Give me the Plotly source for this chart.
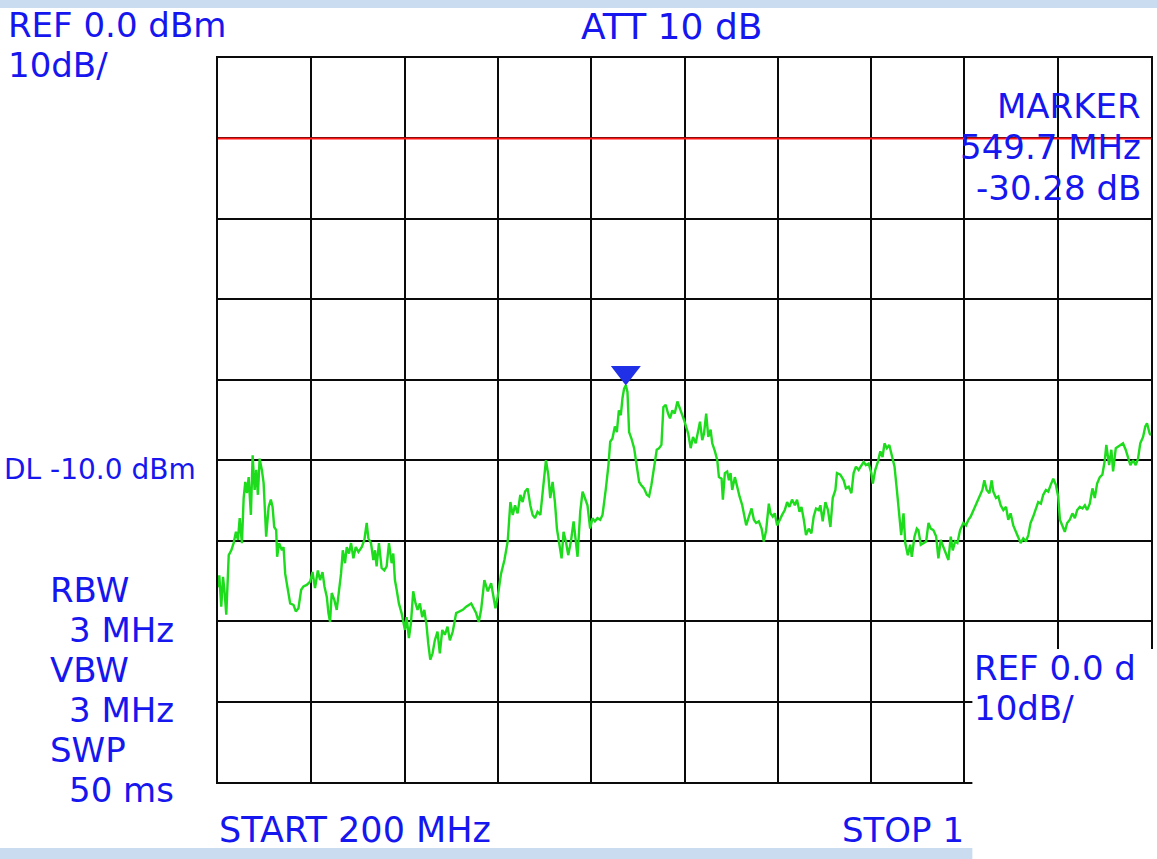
import numpy as np
import plotly.graph_objects as go

# ---------------- data ----------------
freq_mhz = [
    200.0, 201.1, 202.8, 204.3, 205.7, 207.1, 209.2, 211.4, 213.4, 215.4,
    217.1, 218.6, 220.5, 222.0, 223.4, 224.8, 226.3, 228.2, 229.7, 231.4,
    232.8, 234.2, 235.7, 237.6, 239.1, 240.5, 241.3, 243.4, 245.3, 246.8,
    248.2, 249.9, 250.7, 252.4, 254.8, 256.2, 257.6, 259.9, 261.9, 264.8,
    266.7, 269.0, 271.3, 273.3, 276.1, 279.0, 281.0, 283.2, 285.6, 287.5,
    289.6, 291.3, 293.3, 294.7, 296.1, 297.5, 299.8, 301.8, 303.3, 305.5,
    307.0, 308.9, 310.4, 312.3, 314.1, 316.1, 318.1, 320.4, 323.2, 325.5,
    327.5, 328.9, 331.2, 333.2, 334.6, 336.0, 338.0, 340.3, 342.6, 344.6,
    346.6, 348.9, 350.3, 351.7, 353.2, 355.1, 357.4, 358.9, 360.3, 361.7,
    363.7, 365.4, 367.4, 369.4, 371.1, 373.1, 375.1, 376.9, 378.8, 380.3,
    382.0, 384.0, 385.9, 388.2, 390.2, 392.3, 394.5, 396.8, 398.8,
    401.3, 404.2, 409.9, 412.8, 417.1, 421.3, 423.6, 425.6, 428.4, 431.3,
    434.2, 437.9, 439.8, 442.7, 445.6, 448.4,
    450.7, 452.7, 454.7, 456.9, 459.2, 461.2, 463.3, 465.5, 467.8, 469.8,
    471.8, 474.0, 476.4, 478.3, 481.2, 483.2, 484.9, 486.9, 488.9, 490.6,
    492.6, 494.6, 496.3, 498.3, 500.3, 502.6, 504.9, 506.9, 508.3, 510.6,
    512.6, 514.6, 516.8, 519.1, 521.1, 523.2, 525.4, 527.7, 529.7, 532.6,
    534.8, 536.3, 538.2, 540.3, 542.0, 543.7, 545.4, 546.8, 548.2, 549.7,
    551.1, 552.5, 554.5, 556.8, 559.1, 561.1, 563.0, 565.3, 567.7, 569.6,
    571.6, 573.9, 576.2, 578.2, 580.2, 581.9, 583.9, 585.9, 587.6, 589.6,
    591.6, 593.9, 596.2, 598.1,
    599.6, 601.5, 603.2, 605.3, 607.3, 609.6, 611.5, 613.3, 615.2, 616.7,
    618.6, 620.4, 622.4, 623.8, 626.1, 628.1, 629.5, 631.8, 632.9, 634.6,
    636.6, 638.1, 639.5, 640.9, 643.2, 645.2, 647.2, 649.5, 650.9, 652.9,
    655.2, 657.5, 659.5, 661.4, 663.7, 666.1, 668.0, 670.0, 672.3, 673.7,
    675.7, 677.4, 679.4, 681.4, 683.7, 686.0, 688.0, 690.0, 692.2, 694.6,
    696.5, 698.6, 700.3, 702.3, 704.2, 706.5, 708.8, 710.8, 712.8, 715.1,
    716.5, 718.5, 720.8, 723.0, 725.1, 727.1, 729.4, 730.7, 733.6, 736.5,
    738.4, 740.8, 743.1, 745.0, 747.0, 749.3, 751.6, 753.6, 755.5, 757.9,
    760.2, 761.5, 763.6, 765.8, 767.9, 769.8, 771.5, 773.5, 775.6, 777.8,
    780.1, 782.1, 784.1, 785.8, 787.8, 789.3, 791.5, 793.5, 794.9, 797.2,
    799.2,
    800.6, 802.6, 804.9, 807.2, 809.2, 811.2, 813.5, 815.8, 817.7, 819.7,
    822.0, 824.0, 826.3, 828.3, 830.0, 832.0, 834.0, 836.3, 839.1, 841.4,
    843.4, 845.4, 847.7, 850.0, 852.0, 853.4, 855.4, 857.1, 859.1, 861.4,
    863.4, 864.8, 867.1, 869.1, 871.1, 873.4, 875.7, 877.6, 879.6, 881.9,
    884.2, 886.2, 888.2, 890.5, 892.8, 894.8, 896.7, 899.0, 901.3, 903.3,
    905.6, 907.6, 909.9, 911.9, 913.9, 916.2, 918.5, 920.4, 921.9, 923.8,
    926.1, 928.1, 930.4, 932.6, 934.7, 936.7, 939.0, 941.2, 943.3, 945.2,
    947.5, 949.8, 951.8, 953.8, 956.1, 958.3, 960.4, 961.7, 964.1, 966.0,
    967.5, 969.8, 971.7, 973.7, 976.0, 978.3, 980.3, 982.3, 984.6, 986.9,
    988.9, 990.8, 993.2, 995.1, 996.6, 998.9, 1000.0,
]

level_dbm = [
    -65.8, -64.3, -68.2, -64.5, -66.5, -69.2, -61.8, -61.2, -60.3, -58.9,
    -59.9, -57.2, -60.3, -54.7, -52.7, -54.1, -52.1, -56.8, -49.4, -53.7,
    -51.2, -54.3, -49.8, -51.2, -52.8, -56.4, -59.5, -55.8, -54.9, -55.8,
    -58.3, -58.7, -62.0, -60.3, -61.2, -60.8, -64.1, -66.1, -67.8, -68.0,
    -68.8, -68.4, -66.1, -65.7, -65.5, -65.1, -63.9, -65.9, -63.7, -64.9,
    -63.9, -65.7, -67.0, -69.0, -70.1, -66.5, -67.4, -68.6, -67.0, -64.1,
    -61.2, -62.8, -60.8, -61.6, -60.3, -62.2, -60.8, -61.4, -60.8, -59.9,
    -57.8, -59.7, -60.3, -62.4, -61.2, -63.2, -60.3, -63.4, -63.7, -63.2,
    -60.3, -62.8, -61.6, -64.9, -66.1, -67.8, -69.0, -69.9, -71.1, -69.5,
    -72.1, -70.3, -66.3, -67.8, -68.6, -67.8, -69.5, -68.6, -70.5, -72.8,
    -74.8, -74.0, -72.4, -71.3, -74.0, -71.1, -71.7, -70.7, -72.4,
    -71.3, -69.0, -68.6, -68.2, -67.8, -69.0, -70.1, -68.6, -64.9, -66.3,
    -65.3, -68.4, -67.0, -64.1, -62.4, -60.1,
    -55.2, -56.8, -55.6, -56.6, -54.3, -55.2, -53.9, -53.5, -55.6, -56.8,
    -57.2, -56.4, -56.8, -54.3, -50.0, -51.8, -54.7, -52.7, -55.2, -58.5,
    -60.5, -62.2, -58.9, -60.1, -61.8, -60.1, -57.6, -60.1, -62.0, -56.4,
    -53.9, -54.7, -55.6, -58.5, -57.2, -57.6, -57.2, -57.4, -56.8, -53.5,
    -50.6, -47.7, -47.3, -45.8, -46.5, -43.8, -44.4, -42.3, -41.1, -40.7,
    -41.5, -46.5, -47.3, -48.5, -50.6, -52.7, -53.1, -53.5, -54.3, -54.5,
    -53.1, -50.6, -48.7, -48.5, -48.1, -43.4, -43.1, -44.2, -44.8, -43.8,
    -44.2, -42.7, -43.8, -44.4,
    -45.0, -45.8, -46.7, -48.5, -47.1, -47.9, -46.7, -45.2, -47.5, -46.7,
    -44.2, -47.1, -46.2, -47.9, -48.9, -50.0, -52.1, -52.3, -54.9, -51.6,
    -51.4, -52.5, -51.6, -53.7, -52.1, -53.5, -54.5, -55.6, -56.6, -58.1,
    -57.0, -56.0, -57.4, -57.8, -57.6, -58.5, -60.1, -58.7, -55.4, -56.6,
    -57.0, -56.6, -58.1, -57.4, -56.8, -56.2, -55.2, -55.8, -54.9, -55.6,
    -54.9, -56.4, -55.8, -57.4, -59.3, -58.5, -59.1, -57.0, -56.0, -56.2,
    -55.6, -57.6, -55.2, -56.2, -58.3, -54.7, -53.7, -51.6, -51.8, -52.5,
    -53.5, -53.3, -54.1, -51.6, -50.8, -51.2, -50.6, -50.2, -50.6, -50.4,
    -51.6, -52.9, -51.2, -50.2, -48.9, -49.6, -47.9, -48.5, -48.1, -49.4,
    -50.8, -53.7, -56.6, -59.3, -56.6, -60.3, -61.8, -60.5, -62.0, -59.5,
    -58.5,
    -58.7, -60.5, -60.3, -60.1, -57.8, -58.5, -58.7, -59.5, -62.2, -59.9,
    -60.8, -61.6, -62.4, -59.5, -61.2, -60.1, -60.3, -58.7, -57.8, -58.1,
    -57.4, -57.0, -56.2, -55.6, -54.9, -54.3, -53.7, -52.5, -53.7, -54.1,
    -52.5, -53.9, -54.7, -54.5, -55.6, -56.2, -55.8, -57.4, -56.6, -58.1,
    -58.9, -59.7, -60.3, -59.7, -60.1, -59.3, -57.8, -57.0, -56.0, -55.2,
    -55.4, -54.3, -53.7, -53.9, -53.1, -52.3, -53.1, -54.5, -57.4, -58.1,
    -58.9, -57.8, -57.4, -56.6, -57.2, -56.2, -55.8, -56.0, -55.6, -56.2,
    -55.4, -53.5, -54.7, -52.9, -52.1, -51.8, -50.0, -48.1, -50.6, -48.7,
    -51.4, -48.5, -48.3, -48.1, -47.9, -48.7, -49.6, -50.6, -50.0, -50.6,
    -49.8, -47.9, -47.1, -45.8, -45.4, -46.7, -46.9,
]

start_mhz, stop_mhz = 200, 1000
ref_dbm, db_per_div = 0, 10
n_xdiv, n_ydiv = 10, 9
display_line_dbm = -10
marker_mhz = 549.7

header_left = ["REF 0.0 dBm", "10dB/"]
header_mid = "ATT 10 dB"
marker_lines = ["MARKER", "549.7 MHz", "-30.28 dB"]
dl_label = "DL -10.0 dBm"
bw_lines = ["RBW", " 3 MHz", "VBW", " 3 MHz", "SWP", " 50 ms"]
start_label = "START 200 MHz"
stop_label = "STOP 1"
ref_copy = ["REF 0.0 d", "10dB/"]

# ---------------- layout helpers ----------------
W, H = 1157, 859
ML, MR, MT, MB = 218, 4, 58, 77
PW, PH = W - ML - MR, H - MT - MB


def px(x):
    return (x - ML) / PW


def py(y):
    return (H - MB - y) / PH


BLUE = "#1616ee"
GRID = "#0a0a0a"
FONT = "DejaVu Sans"
FS = 34

fig = go.Figure()
fig.add_trace(go.Scatter(
    x=freq_mhz, y=level_dbm, mode="lines",
    line=dict(color="#1cdc1c", width=2.4), hoverinfo="skip",
))

marker_level = float(np.interp(marker_mhz, freq_mhz, level_dbm))
fig.add_trace(go.Scatter(
    x=[marker_mhz], y=[marker_level + 1.6], mode="markers",
    marker=dict(symbol="triangle-down", size=26, color="#2030e6",
                line=dict(width=0)),
    hoverinfo="skip",
))

ax_common = dict(
    showgrid=True, gridcolor=GRID, gridwidth=2,
    showline=True, linecolor=GRID, linewidth=2, mirror=True,
    showticklabels=False, ticks="", zeroline=False, fixedrange=True,
)
fig.update_xaxes(range=[start_mhz, stop_mhz], tick0=start_mhz,
                 dtick=(stop_mhz - start_mhz) / n_xdiv, **ax_common)
fig.update_yaxes(range=[ref_dbm - n_ydiv * db_per_div, ref_dbm],
                 tick0=ref_dbm, dtick=db_per_div, **ax_common)

shapes = [
    # display line
    dict(type="line", xref="paper", yref="y", x0=0, x1=1,
         y0=display_line_dbm, y1=display_line_dbm,
         line=dict(color="#ff1414", width=2), layer="above"),
    # white overlay box at lower right
    dict(type="rect", xref="paper", yref="paper",
         x0=px(974), x1=px(1170), y0=py(870), y1=py(649),
         fillcolor="white", line=dict(width=0), layer="above"),
    # light blue strips
    dict(type="rect", xref="paper", yref="paper",
         x0=px(-10), x1=px(1170), y0=py(8), y1=py(-5),
         fillcolor="#cadcef", line=dict(width=0), layer="above"),
    dict(type="rect", xref="paper", yref="paper",
         x0=px(-10), x1=px(974), y0=py(870), y1=py(848),
         fillcolor="#cadcef", line=dict(width=0), layer="above"),
]

ann = []


def label(text, x, yc, anchor="left", size=FS):
    ann.append(dict(
        text=text, xref="paper", yref="paper", x=px(x), y=py(yc),
        xanchor=anchor, yanchor="middle", showarrow=False,
        borderpad=0, borderwidth=0,
        font=dict(family=FONT, size=size, color=BLUE),
    ))


label(header_left[0], 8, 25)
label(header_left[1], 8, 65)
label(header_mid, 582, 27, size=36)
label(marker_lines[0], 1143, 106, "right")
label(marker_lines[1], 1143, 147, "right")
label(marker_lines[2], 1143, 188, "right")
label(dl_label, 4, 469, size=28)
for i, t in enumerate(bw_lines):
    x = 50 if not t.startswith(" ") else 69
    label(t.strip(), x, 590 + 40 * i)
label(start_label, 219, 830, size=35)
label(stop_label, 843, 830)
label(ref_copy[0], 976, 668)
label(ref_copy[1], 976, 708)

fig.update_layout(
    width=W, height=H, autosize=False,
    margin=dict(l=ML, r=MR, t=MT, b=MB, pad=0),
    paper_bgcolor="white", plot_bgcolor="white",
    showlegend=False, shapes=shapes, annotations=ann,
)

fig.write_html(
    "out.html",
    config={"displayModeBar": False, "staticPlot": True},
    post_script="document.body.style.margin='0px';"
                "document.body.style.overflow='hidden';",
)
